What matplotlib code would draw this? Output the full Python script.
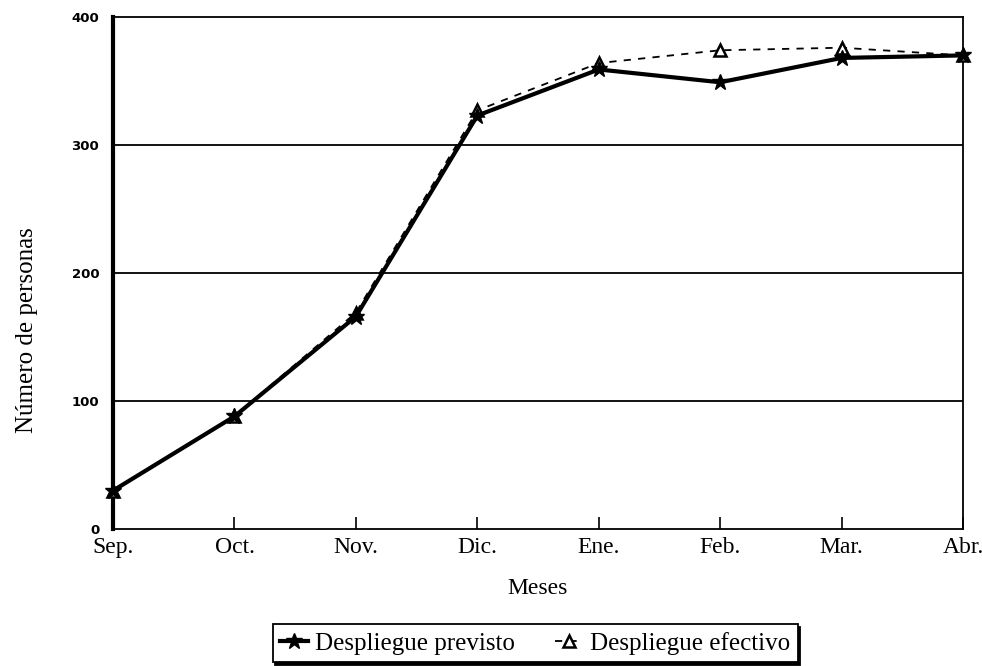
import matplotlib.pyplot as plt

meses = ["Sep.", "Oct.", "Nov.", "Dic.", "Ene.", "Feb.", "Mar.", "Abr."]
previsto = [30, 88, 166, 323, 359, 349, 368, 370]
efectivo = [30, 88, 169, 327, 364, 374, 376, 370]
yticks = [0, 100, 200, 300, 400]

serif = "Liberation Serif"

fig = plt.figure(figsize=(9.82, 6.66), dpi=100)
ax = fig.add_axes([0.1151, 0.2057, 0.8656, 0.7688])

x = range(len(meses))
ax.plot(x, efectivo, color="black", linestyle=(0, (4, 4)), linewidth=1.3,
        marker="^", markersize=8, markerfacecolor="white", markeredgecolor="black",
        markeredgewidth=1.8, label="Despliegue efectivo", zorder=3, clip_on=False)
ax.plot(x, previsto, color="black", linewidth=3, marker="*", markersize=12,
        markeredgewidth=1, label="Despliegue previsto", zorder=4, clip_on=False)

ax.set_xlim(0, len(meses) - 1)
ax.set_ylim(0, 400)
ax.set_xticks(list(x))
ax.set_xticklabels(meses, fontfamily=serif, fontsize=17)
ax.set_yticks(yticks)
ax.set_yticklabels([str(v) for v in yticks], fontfamily="DejaVu Sans",
                   fontweight="heavy", fontsize=9.5)
ax.tick_params(axis="x", direction="in", length=9, width=1.2, pad=6)
ax.tick_params(axis="y", length=0, pad=10)

for v in [100, 200, 300]:
    ax.axhline(v, color="black", linewidth=1.3, zorder=1)

ax.spines["left"].set_linewidth(3)
for s in ["top", "right", "bottom"]:
    ax.spines[s].set_linewidth(1.3)

ax.set_xlabel("Meses", fontfamily=serif, fontsize=17, labelpad=14)
ax.set_ylabel("Número de personas", fontfamily=serif, fontsize=18)
ax.yaxis.set_label_coords(-0.088, 0.389)

h, l = ax.get_legend_handles_labels()
leg = fig.legend(h[::-1], l[::-1], loc="center", bbox_to_anchor=(0.545, 0.034),
                 ncol=2, frameon=True, fancybox=False, edgecolor="black",
                 prop={"family": serif, "size": 18}, handlelength=1.1,
                 handletextpad=0.3, columnspacing=1.6, borderpad=0.3,
                 borderaxespad=0, shadow={"color": "black", "alpha": 1})
leg.get_frame().set_linewidth(1.3)

fig.savefig("out.png", dpi=100)
